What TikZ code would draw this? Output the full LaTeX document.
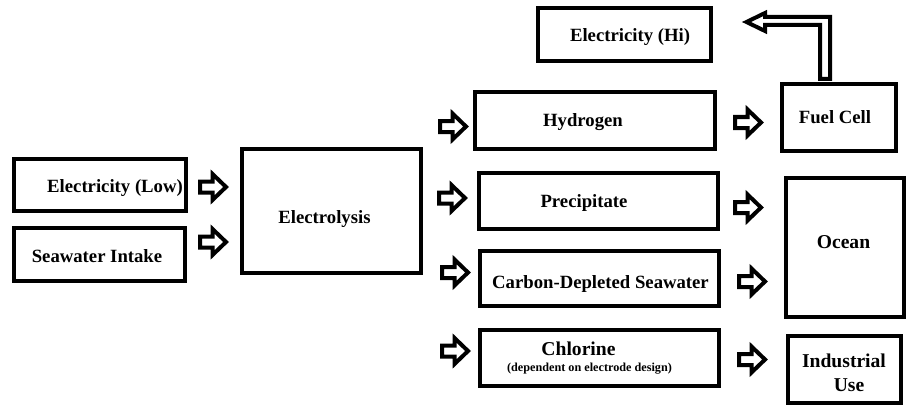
\documentclass[tikz,border=0pt]{standalone}
\usepackage{fontspec}
\setmainfont{Liberation Serif}
\begin{document}
\begin{tikzpicture}[x=1pt,y=-1pt,
  box/.style={draw=black,line width=4.2pt,rectangle,inner sep=0pt,fill=white},
  lbl/.style={font=\bfseries\fontsize{18.7}{20}\selectfont,anchor=base,inner sep=0pt},
  lblb/.style={font=\bfseries\fontsize{19.6}{21}\selectfont,anchor=base,inner sep=0pt},
  lbls/.style={font=\bfseries\fontsize{12.2}{13}\selectfont,anchor=base,inner sep=0pt},
  arrowline/.style={draw=black,line width=4pt,line join=miter,fill=white},
  rarr/.pic={\path[arrowline] (0,-5.5) -- (12.5,-5.5) -- (12.5,-13) -- (26,0) -- (12.5,13) -- (12.5,5.5) -- (0,5.5) -- cycle;}
]
\useasboundingbox (0,0) rectangle (917,417);
\fill[white] (0,0) rectangle (917,417);
% boxes
\node[box,minimum width=171.8,minimum height=51.8] (elow) at (100,185) {};
\node[box,minimum width=170.8,minimum height=52.8] (sea) at (99.5,254.5) {};
\node[box,minimum width=178.8,minimum height=123.8] (elec) at (331.5,211) {};
\node[box,minimum width=172.8,minimum height=52.8] (ehi) at (624.5,34.5) {};
\node[box,minimum width=239.8,minimum height=56.8] (hyd) at (595,120.5) {};
\node[box,minimum width=113.8,minimum height=66.8] (fuel) at (839,117.5) {};
\node[box,minimum width=238.8,minimum height=55.8] (prec) at (598.5,201) {};
\node[box,minimum width=238.8,minimum height=54.8] (carb) at (599.5,278.5) {};
\node[box,minimum width=238.8,minimum height=55.8] (chl) at (599.5,358) {};
\node[box,minimum width=117.8,minimum height=138.8] (ocean) at (845,247.5) {};
\node[box,minimum width=112.8,minimum height=66.8] (ind) at (844.5,369.5) {};
% labels
\node[lbl] (telow) at (115,192) {Electricity (Low)};
\node[lbl] (tsea) at (97,262) {Seawater Intake};
\node[lbl] (telec) at (324.5,223) {Electrolysis};
\node[lbl] (tehi) at (630,42) {Electricity (Hi)};
\node[lbl] (thyd) at (583,126) {Hydrogen};
\node[lbl] (tfuel) at (835,124) {Fuel Cell};
\node[lbl] (tprec) at (584,207) {Precipitate};
\node[lbl] (tcarb) at (600.5,288) {Carbon-Depleted Seawater};
\node[lblb] (tchl) at (578.5,355) {Chlorine};
\node[lbls] (tchl2) at (589.5,371) {(dependent on electrode design)};
\node[lblb] (tocean) at (843.5,248) {Ocean};
\node[lblb] (tind) at (844,367) {Industrial};
\node[lblb] (tuse) at (849,391) {Use};
% block arrows
\pic (a1) at (200,187) {rarr};
\pic (a2) at (200,242) {rarr};
\pic (a3) at (440,126.5) {rarr};
\pic (a4) at (735,122.5) {rarr};
\pic (a5) at (439,198) {rarr};
\pic (a6) at (442,272.5) {rarr};
\pic (a7) at (442,351) {rarr};
\pic (a8) at (735,207.5) {rarr};
\pic (a9) at (739,281.5) {rarr};
\pic (a10) at (739,359.5) {rarr};
% bent arrow from fuel cell to electricity (hi)
\path[arrowline] (746.5,22) -- (765,13) -- (765,17) -- (830,17) -- (830,79) -- (820,79) -- (820,25) -- (765,25) -- (765,31) -- cycle;
\end{tikzpicture}
\end{document}
